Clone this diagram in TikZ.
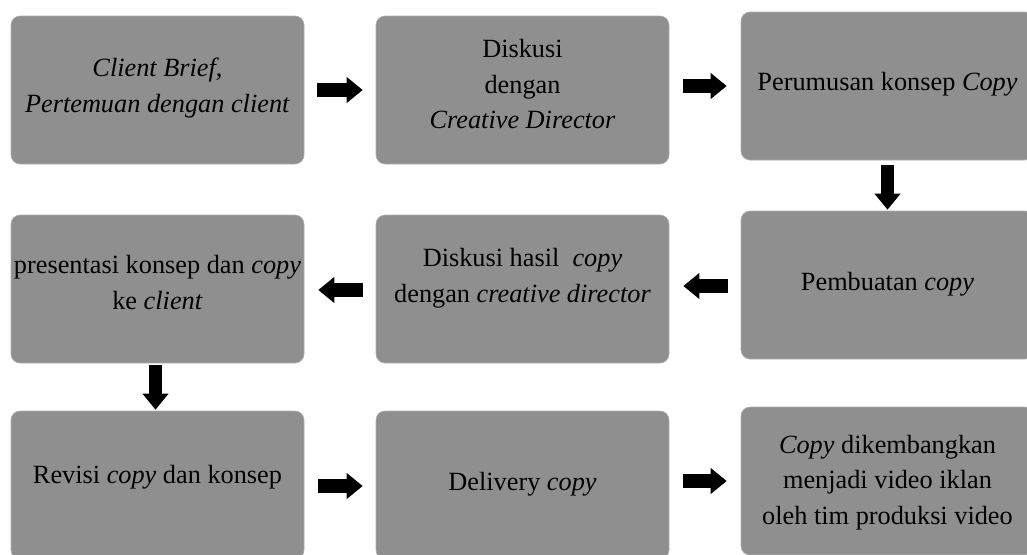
\documentclass[tikz,border=0pt]{standalone}
\usepackage{fontspec}
\setmainfont{Liberation Serif}
\usetikzlibrary{calc,arrows.meta}
\definecolor{boxgray}{RGB}{143,143,143}
\definecolor{boxedge}{RGB}{175,175,175}
\newcommand\lstrut{\rule[-13.5pt]{0pt}{35.5pt}}
\tikzset{
  box/.style={rectangle, rounded corners=9pt, fill=boxgray, draw=boxedge, line width=0.6pt,
    minimum width=293pt, minimum height=148pt, inner sep=0pt},
  txt/.style={align=center, font=\fontsize{26.3}{35.5}\selectfont, inner sep=0pt},
  blk/.style={line width=13.5pt, -{Triangle[length=16pt,width=25pt]}}
}
\begin{document}
\begin{tikzpicture}[x=1pt,y=-1pt]
\useasboundingbox (0,0) rectangle (1027,554);
\clip (0,0) rectangle (1027,554);
% boxes
\node[box] (b1) at (157.5,90) {};
\node[box] (b2) at (522.5,90) {};
\node[box] (b3) at (887.5,86) {};
\node[box] (b4) at (157.5,289) {};
\node[box] (b5) at (522.5,289) {};
\node[box] (b6) at (887.5,285) {};
\node[box] (b7) at (157.5,485) {};
\node[box] (b8) at (522.5,485) {};
\node[box] (b9) at (887.5,481) {};
% texts
\node[txt] (t1) at ($(b1.center)+(0,0.25)$) {\lstrut\textit{Client Brief,}\\\lstrut\textit{Pertemuan dengan client}};
\node[txt] (t2) at ($(b2.center)+(0,-1.25)$) {\lstrut Diskusi\\\lstrut dengan\\\lstrut\textit{Creative Director}};
\node[txt] (t3) at ($(b3.center)+(0,-0.25)$) {\lstrut Perumusan konsep \textit{Copy}};
\node[txt] (t4) at ($(b4.center)+(0,-1.75)$) {\lstrut presentasi konsep dan \textit{copy}\\\lstrut ke \textit{client}};
\node[txt] (t5) at ($(b5.center)+(0,-8.75)$) {\lstrut Diskusi hasil~ \textit{copy}\\\lstrut dengan \textit{creative director}};
\node[txt] (t6) at ($(b6.center)+(0,0.75)$) {\lstrut Pembuatan \textit{copy}};
\node[txt] (t7) at ($(b7.center)+(0,-6)$) {\lstrut Revisi \textit{copy} dan konsep};
\node[txt] (t8) at ($(b8.center)+(0,0.75)$) {\lstrut Delivery \textit{copy}};
\node[txt] (t9) at ($(b9.center)+(0,3.25)$) {\lstrut\textit{Copy} dikembangkan\\\lstrut menjadi video iklan\\\lstrut oleh tim produksi video};
% arrows
\draw[blk] ($(b1.east)+(13,0)$) -- ($(b2.west)+(-13,0)$);
\draw[blk] ($(b2.east|-b3.center)+(14,0)$) -- ($(b3.west)+(-14,0)$);
\draw[blk] ($(b3.south)+(0,5)$) -- ($(b6.north)+(0,-1)$);
\draw[blk] ($(b6.west)+(-13,1)$) -- ($(b5.east|-b6.center)+(14,1)$);
\draw[blk] ($(b5.west)+(-13,1)$) -- ($(b4.east)+(14,1)$);
\draw[blk] ($(b4.south)+(-2,2)$) -- ($(b7.north)+(-2,-1)$);
\draw[blk] ($(b7.east)+(14,1)$) -- ($(b8.west)+(-13,1)$);
\draw[blk] ($(b8.east|-b9.center)+(14,0)$) -- ($(b9.west)+(-14,0)$);
\end{tikzpicture}
\end{document}
